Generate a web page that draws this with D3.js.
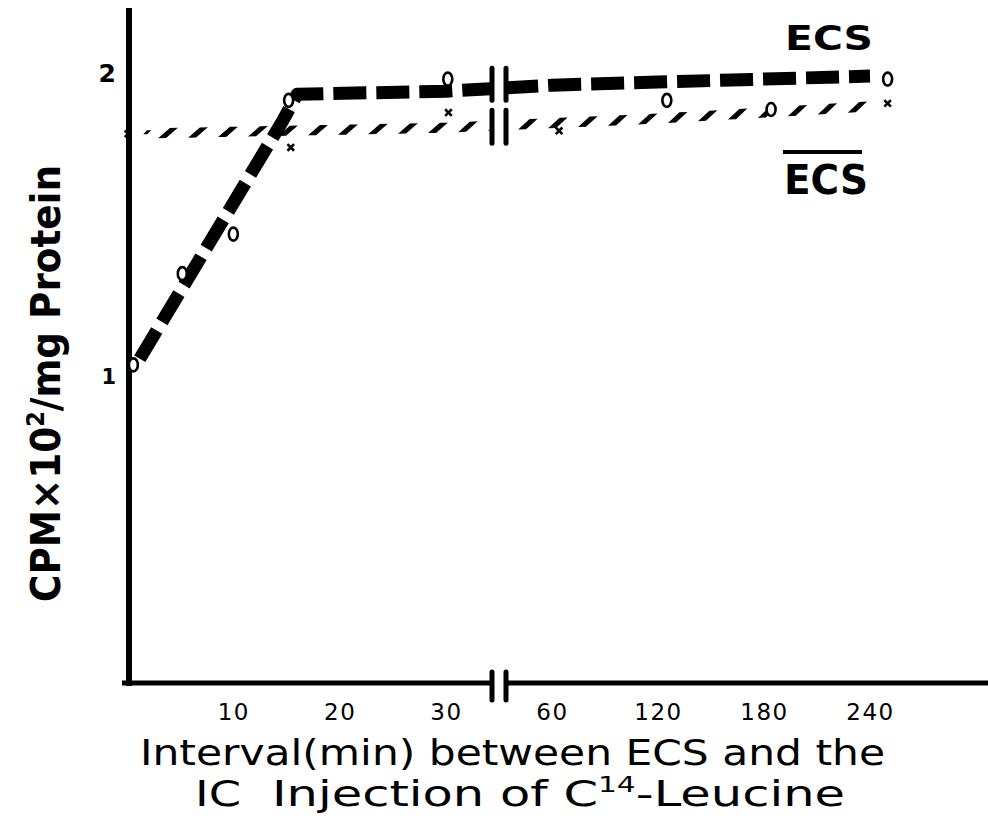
<!DOCTYPE html>
<html>
<head>
<meta charset="utf-8">
<script src="https://cdn.jsdelivr.net/npm/d3@7"></script>
<style>
  html, body { margin: 0; padding: 0; background: #fff; }
  svg { display: block; }
</style>
</head>
<body>
<svg id="chart" width="988" height="816"></svg>
<script>
// Uptake of C14-leucine (CPM x10^2 / mg protein) against the interval (min)
// between ECS and the intracisternal injection.

// ECS series: drawn curve (heavy dashes) and plotted points ("o")
const ecsLineT   = [1.2, 14.6, 16, 30, 60, 120, 180, 240];
const ecsLineV   = [1.06, 1.84, 1.93, 1.94, 1.96, 1.97, 1.98, 1.99];
const ecsPointT  = [0.6, 5.2, 10, 15.2, 30.5, 125, 184, 250];
const ecsPointV  = [1.04, 1.34, 1.47, 1.91, 1.98, 1.91, 1.88, 1.98];

// Sham (ECS with overbar) series: hatched curve and plotted points
const shamLineT  = [0, 15, 30, 60, 120, 180, 240];
const shamLineV  = [1.80, 1.81, 1.82, 1.835, 1.85, 1.87, 1.89];
const shamPointT = [0.1, 15.4, 30.7, 64, 250];
const shamPointV = [1.80, 1.755, 1.87, 1.81, 1.90];

// Axis ticks
const xTickValues = [10, 20, 30, 60, 120, 180, 240];
const yTickValues = [1, 2];
const axisBreakT  = 45;

const svg = d3.select("#chart");
const FONT = "'DejaVu Sans', sans-serif";

// Broken time axis: 0-30 min on one scale, 60-240 min on another
const x = d3.scaleLinear()
  .domain([0, 30, 60, 240, 307])
  .range([127, 446, 552, 870, 988]);
const y = d3.scaleLinear()
  .domain([0, 2.2])
  .range([681, 681 - 2.2 * 304]);

const toPts = (ts, vs) => ts.map((t, i) => [t, vs[i]]);
const line = d3.line().x(d => x(d[0])).y(d => y(d[1]));

// ---- axes ----
const xAxis = d3.axisBottom(x).tickValues(xTickValues).tickSize(0).tickPadding(21)
  .tickFormat(d3.format("d"));
const gx = svg.append("g").attr("transform", `translate(0,${y(0) + 2})`).call(xAxis);
gx.select(".domain").remove();
gx.selectAll("text")
  .attr("font-family", FONT).attr("font-size", 23).attr("fill", "#000")
  .attr("letter-spacing", 1.5);

const yAxis = d3.axisLeft(y).tickValues(yTickValues).tickSize(0).tickPadding(13)
  .tickFormat(d3.format("d"));
const gy = svg.append("g").attr("transform", `translate(${x(0) + 2},0)`).call(yAxis);
gy.select(".domain").remove();
gy.selectAll("text")
  .attr("font-family", FONT).attr("font-weight", "bold").attr("fill", "#000")
  .attr("font-size", d => d === 2 ? 25 : 21);

// axis lines
svg.append("line")
  .attr("x1", x(0) + 2).attr("x2", x(0) + 2)
  .attr("y1", 8).attr("y2", y(0) + 5)
  .attr("stroke", "#000").attr("stroke-width", 6);
svg.append("line")
  .attr("x1", x(0) - 5).attr("x2", 988)
  .attr("y1", y(0) + 2).attr("y2", y(0) + 2)
  .attr("stroke", "#000").attr("stroke-width", 5);

// ---- ECS curve: heavy dashes ----
svg.append("path")
  .datum(toPts(ecsLineT, ecsLineV))
  .attr("d", line)
  .attr("fill", "none")
  .attr("stroke", "#000")
  .attr("stroke-width", 13)
  .attr("stroke-dasharray", "33 10")
  .attr("stroke-linejoin", "round");

// ---- sham curve: slanted hatch strokes placed along the curve ----
const shamPath = svg.append("path")
  .datum(toPts(shamLineT, shamLineV))
  .attr("d", line)
  .attr("fill", "none")
  .attr("stroke", "none");
const shamNode = shamPath.node();
const total = shamNode.getTotalLength();
const hatchG = svg.append("g");
for (let s = 41; s <= total - 4; s += 30) {
  const p = shamNode.getPointAtLength(s);
  const q = shamNode.getPointAtLength(Math.min(total, s + 1));
  const ang = Math.atan2(q.y - p.y, q.x - p.x) * 180 / Math.PI;
  hatchG.append("path")
    .attr("d", "M-10,5 L-2,5 L10,-5 L2,-5 Z")
    .attr("transform", `translate(${p.x},${p.y}) rotate(${ang})`)
    .attr("fill", "#000");
}
// short leading stroke near the axis
hatchG.append("path")
  .attr("d", "M-4,2 L0,2 L4,-2 L0,-2 Z")
  .attr("transform", `translate(${x(1.9)},${y(1.805)})`)
  .attr("fill", "#000");

// ---- break marks on the axis and on both curves ----
const xb = x(axisBreakT);
const breaks = [
  { cy: y(0) + 2, up: 11, down: 17 },
  { cy: y(1.95), up: 20, down: 12 },
  { cy: y(1.828), up: 15, down: 18 }
];
breaks.forEach(b => {
  svg.append("rect")
    .attr("x", xb - 6).attr("width", 12)
    .attr("y", b.cy - 9).attr("height", 18)
    .attr("fill", "#fff");
  [xb - 7, xb + 7].forEach(bx => {
    svg.append("line")
      .attr("x1", bx).attr("x2", bx)
      .attr("y1", b.cy - b.up).attr("y2", b.cy + b.down)
      .attr("stroke", "#000").attr("stroke-width", 5)
      .attr("stroke-linecap", "round");
  });
});

// ---- plotted points ----
svg.append("g").selectAll("ellipse")
  .data(toPts(ecsPointT, ecsPointV))
  .join("ellipse")
  .attr("cx", d => x(d[0])).attr("cy", d => y(d[1]))
  .attr("rx", 4.5).attr("ry", 6.5)
  .attr("fill", "#fff").attr("stroke", "#000").attr("stroke-width", 2.6);

svg.append("g").selectAll("path")
  .data(toPts(shamPointT, shamPointV))
  .join("path")
  .attr("d", d3.symbol(d3.symbolTimes, 30))
  .attr("transform", d => `translate(${x(d[0])},${y(d[1])})`)
  .attr("fill", "none").attr("stroke", "#000").attr("stroke-width", 2.6);

// ---- series labels ----
svg.append("text")
  .attr("x", 785).attr("y", 50)
  .attr("font-family", FONT).attr("font-weight", "bold").attr("font-size", 34)
  .attr("textLength", 88).attr("lengthAdjust", "spacingAndGlyphs")
  .text("ECS");
svg.append("line")
  .attr("x1", 783).attr("x2", 862).attr("y1", 152).attr("y2", 152)
  .attr("stroke", "#000").attr("stroke-width", 4);
svg.append("text")
  .attr("x", 784).attr("y", 194)
  .attr("font-family", FONT).attr("font-weight", "bold").attr("font-size", 40)
  .attr("textLength", 84).attr("lengthAdjust", "spacingAndGlyphs")
  .text("ECS");

// ---- axis titles ----
const yTitle = svg.append("text")
  .attr("transform", "translate(60,602) rotate(-90)")
  .attr("font-family", FONT).attr("font-weight", "bold").attr("font-size", 40)
  .attr("textLength", 437).attr("lengthAdjust", "spacingAndGlyphs");
yTitle.append("tspan").text("CPM\u00d710");
yTitle.append("tspan").attr("font-size", 24).attr("dy", -16).text("2");
yTitle.append("tspan").attr("dy", 16).text("/mg Protein");

svg.append("text")
  .attr("x", 140).attr("y", 765)
  .attr("font-family", FONT).attr("font-size", 35)
  .attr("textLength", 745).attr("lengthAdjust", "spacingAndGlyphs")
  .text("Interval(min) between ECS and the");

svg.append("text")
  .attr("x", 195).attr("y", 806)
  .attr("font-family", FONT).attr("font-size", 35)
  .attr("textLength", 46).attr("lengthAdjust", "spacingAndGlyphs")
  .text("IC");
const line2 = svg.append("text")
  .attr("x", 272).attr("y", 806)
  .attr("font-family", FONT).attr("font-size", 35)
  .attr("textLength", 573).attr("lengthAdjust", "spacingAndGlyphs");
line2.append("tspan").text("Injection of C");
line2.append("tspan").attr("font-size", 21).attr("dy", -14).text("14");
line2.append("tspan").attr("dy", 14).text("-Leucine");
</script>
</body>
</html>
